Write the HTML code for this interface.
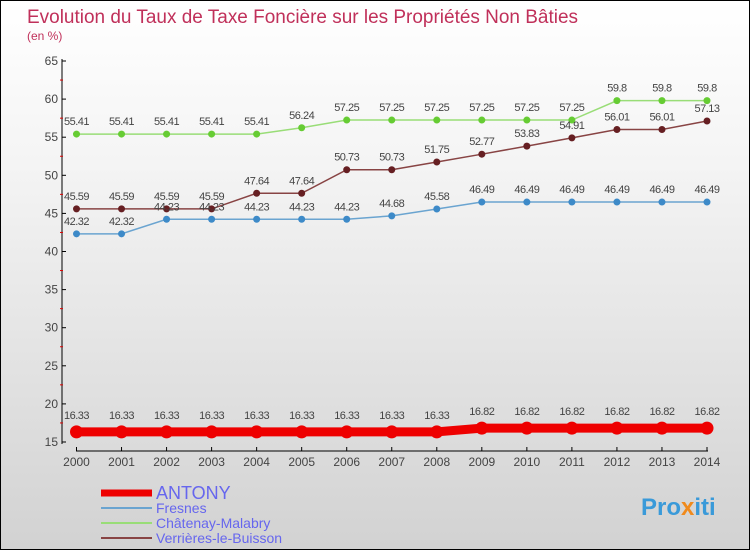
<!DOCTYPE html>
<html><head><meta charset="utf-8"><style>
body{margin:0;}
#c{width:750px;height:550px;position:relative;box-sizing:border-box;border:1px solid #000;background:linear-gradient(#ffffff 0%,#f4f4f4 30%,#d2d2d2 100%);font-family:"Liberation Sans",sans-serif;overflow:hidden}
</style></head><body>
<div id="c">
<svg width="750" height="550" id="svg" style="position:absolute;left:0;top:0">
<text x="26" y="22" font-size="19" textLength="551" lengthAdjust="spacingAndGlyphs" fill="#c0305a">Evolution du Taux de Taxe Foncière sur les Propriétés Non Bâties</text>
<text x="26" y="39" font-size="12" fill="#c0305a">(en %)</text>
<g id="axes"></g><g id="series"></g>
<text x="640" y="514" font-size="24" font-weight="bold" fill="#3a9ad9">Pro<tspan fill="#f08a1c">x</tspan>iti</text>
</svg>
</div>
<script>
const years=[2000,2001,2002,2003,2004,2005,2006,2007,2008,2009,2010,2011,2012,2013,2014];
const antony=[16.33,16.33,16.33,16.33,16.33,16.33,16.33,16.33,16.33,16.82,16.82,16.82,16.82,16.82,16.82];
const fresnes=[42.32,42.32,44.23,44.23,44.23,44.23,44.23,44.68,45.58,46.49,46.49,46.49,46.49,46.49,46.49];
const chatenay=[55.41,55.41,55.41,55.41,55.41,56.24,57.25,57.25,57.25,57.25,57.25,57.25,59.8,59.8,59.8];
const verrieres=[45.59,45.59,45.59,45.59,47.64,47.64,50.73,50.73,51.75,52.77,53.83,54.91,56.01,56.01,57.13];
const yTicks=[15,20,25,30,35,40,45,50,55,60,65];
const NS="http://www.w3.org/2000/svg";
const x=i=>75.5+i*(706-75.5)/(years.length-1);
const y=v=>441-(v-15)*(441-60)/50;
function mk(t,a,p){const e=document.createElementNS(NS,t);for(const k in a)e.setAttribute(k,a[k]);p.appendChild(e);return e;}
const ax=document.getElementById('axes');
let l=mk('line',{x1:61,y1:58,x2:61,y2:443,stroke:'#000'},ax);


l=mk('line',{x1:75,y1:450,x2:707,y2:450,stroke:'#000'},ax);


yTicks.forEach(v=>{
  mk('line',{x1:61,y1:y(v),x2:65,y2:y(v),stroke:'#000'},ax);
  if(v<65)mk('line',{x1:59,y1:y(v+2.5),x2:62,y2:y(v+2.5),stroke:'#d00'},ax);
  const t=mk('text',{x:57,y:y(v)+4,'font-size':12,fill:'#444','text-anchor':'end'},ax);t.textContent=v;
  
  
});
years.forEach((yr,i)=>{
  mk('line',{x1:x(i),y1:446,x2:x(i),y2:450,stroke:'#000'},ax);
  const t=mk('text',{x:x(i),y:465,'font-size':12,fill:'#444','text-anchor':'middle'},ax);t.textContent=yr;
  
  
});
const sg=document.getElementById('series');
function series(data,color,dot,w,r,name,lblOff){
  const g=mk('g',{},sg);
  
  
  const p=mk('polyline',{points:data.map((v,i)=>x(i)+','+y(v)).join(' '),fill:'none',stroke:color,'stroke-width':w},g);
  
  
  data.forEach((v,i)=>{
    const c=mk('circle',{cx:x(i),cy:y(v),r:r,fill:dot},g);
    
    
    const t=mk('text',{x:x(i),y:y(v)+lblOff,'font-size':11,fill:'#444','text-anchor':'middle','letter-spacing':'-0.5'},g);
    t.textContent=v;
    
    
  });
}
series(chatenay,'#99dd77','#66cc33',1.5,3.5,'chatenay-malabry',-9);
series(verrieres,'#884444','#661f22',1.5,3.5,'verrieres-le-buisson',-9);
series(fresnes,'#6aa4d0','#3d8ac8',1.5,3.5,'fresnes',-9);
series(antony,'#ee0000','#ee0000',9,6.5,'antony',-13);
const legend=[['ANTONY','#ee0000',7,16],['Fresnes','#6aa4d0',2,12],['Châtenay-Malabry','#99dd77',2,12],['Verrières-le-Buisson','#884444',2,12]];
legend.forEach((d,i)=>{
  const yy=492+i*15;
  const g=mk('g',{},document.getElementById('svg'));
  
  
  mk('line',{x1:100,y1:yy,x2:151,y2:yy,stroke:d[1],'stroke-width':d[2]},g);
  const t=mk('text',{x:155,y:yy+(i==0?6:5),'font-size':d[3]+2,fill:'#6666ee'},g);t.textContent=d[0];
});
</script>
</body></html>
